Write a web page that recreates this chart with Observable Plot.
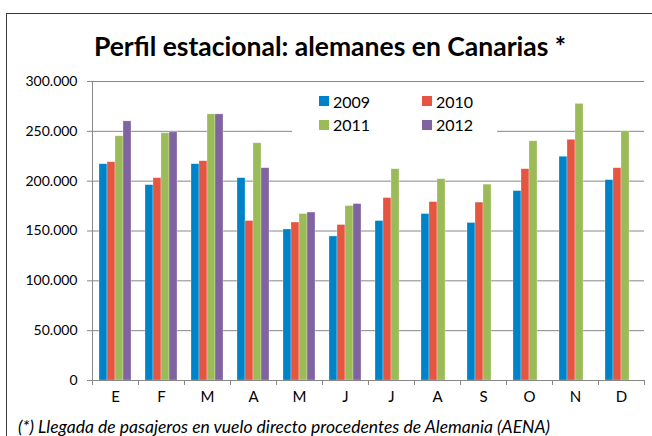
<!DOCTYPE html>
<html>
<head>
<meta charset="utf-8">
<script src="https://cdn.jsdelivr.net/npm/d3@7"></script>
<script src="https://cdn.jsdelivr.net/npm/@observablehq/plot@0.6"></script>
<style>
  html, body { margin: 0; padding: 0; background: #fff; }
  #wrap { position: relative; width: 652px; height: 436px; overflow: hidden; font-family: Lato, "Open Sans", sans-serif; color: #000; }
  #frame { position: absolute; left: 6px; top: 13px; width: 700px; height: 500px; border: 1px solid #3a3a3a; box-sizing: border-box; }
  #chart { position: absolute; left: 0; top: 0; }
  #title { position: absolute; left: 0; width: 660px; top: 30px; text-align: center; font-weight: bold; font-size: 26.5px; line-height: 32px; }
  #caption { position: absolute; left: 18px; top: 416px; font-style: italic; font-size: 17.5px; line-height: 22px; white-space: nowrap; }
  #legend { position: absolute; left: 292px; top: 86px; width: 205px; height: 48px; background: #fff; font-size: 16px; }
  .item { position: absolute; display: flex; align-items: center; height: 10px; white-space: nowrap; }
  .sw { width: 10px; height: 10px; margin-right: 4px; }
</style>
</head>
<body>
<div id="wrap">
  <div id="frame"></div>
  <div id="chart"></div>
  <div id="title">Perfil estacional: alemanes en Canarias *</div>
  <div id="legend"></div>
  <div id="caption">(*) Llegada de pasajeros en vuelo directo procedentes de Alemania (AENA)</div>
</div>
<script>
const months = ["E","F","M","A","M","J","J","A","S","O","N","D"];
const years = ["2009","2010","2011","2012"];
const v2009 = [217000,196000,217000,203000,151500,144500,160000,167000,158000,190000,224500,201000];
const v2010 = [219000,203000,220000,160000,158500,156000,183000,179000,178500,212000,241500,213000];
const v2011 = [245000,248000,267000,238000,167000,175000,212000,202000,196500,240000,277500,250000];
const v2012 = [260000,249000,267000,213000,168500,177000];
const yTicks = [0,50000,100000,150000,200000,250000,300000];
const colors = ["#0082c8","#e5553f","#9bbb59","#8064a2"];

const series = [v2009, v2010, v2011, v2012];
const rows = [];
series.forEach((vals, s) => vals.forEach((v, i) => rows.push({m: i, year: years[s], value: v})));

const fmt = d3.formatLocale({decimal: ",", thousands: ".", grouping: [3], currency: ["", "€"]}).format(",d");

const plot = Plot.plot({
  width: 652, height: 436,
  marginLeft: 90, marginRight: 7, marginTop: 81, marginBottom: 56,
  style: {fontFamily: "Lato, 'Open Sans', sans-serif", fontSize: "14px", color: "#000", background: "transparent"},
  fx: {domain: d3.range(12), padding: 0, label: null, axis: null},
  x: {domain: years, paddingInner: 0, paddingOuter: 0.753, axis: null},
  y: {domain: [0, 300000], label: null, axis: null},
  color: {domain: years, range: colors},
  marks: [
    Plot.gridY(yTicks, {stroke: "#878787", strokeOpacity: 1}),
    Plot.barY(rows, {fx: "m", x: "year", y: "value", fill: "year", stroke: "#ffffff", strokeOpacity: 0.45, strokeWidth: 0.6}),
    Plot.ruleY([0], {stroke: "#878787"}),
    Plot.axisY(yTicks, {tickFormat: fmt, tickSize: 5, tickPadding: 10, stroke: "#878787", fill: "#000", label: null}),
    Plot.axisFx({anchor: "bottom", tickSize: 0, tickPadding: 11, tickFormat: i => months[i], fill: "#000", label: null, fontSize: 15})
  ]
});

document.getElementById("chart").appendChild(plot);

// axis line and category boundary ticks, placed through the library's scales
const fx = plot.scale("fx"), y = plot.scale("y");
const g = d3.select(plot).append("g").attr("stroke", "#878787").attr("stroke-width", 1);
const x0 = fx.apply(0);
g.append("line").attr("x1", x0 + 0.5).attr("x2", x0 + 0.5)
  .attr("y1", y.apply(300000)).attr("y2", y.apply(0));
for (let i = 0; i <= months.length; i++) {
  const bx = i < months.length ? fx.apply(i) : fx.apply(months.length - 1) + fx.bandwidth;
  g.append("line").attr("x1", bx + 0.5).attr("x2", bx + 0.5)
    .attr("y1", y.apply(0)).attr("y2", y.apply(0) + 5);
}

// legend
const legend = document.getElementById("legend");
years.forEach((yr, i) => {
  const col = i % 2, row = Math.floor(i / 2);
  const it = document.createElement("div");
  it.className = "item";
  it.style.left = (27 + col * 103) + "px";
  it.style.top = (10 + row * 23.5) + "px";
  it.innerHTML = `<span class="sw" style="background:${colors[i]}"></span><span>${yr}</span>`;
  legend.appendChild(it);
});
</script>
</body>
</html>
